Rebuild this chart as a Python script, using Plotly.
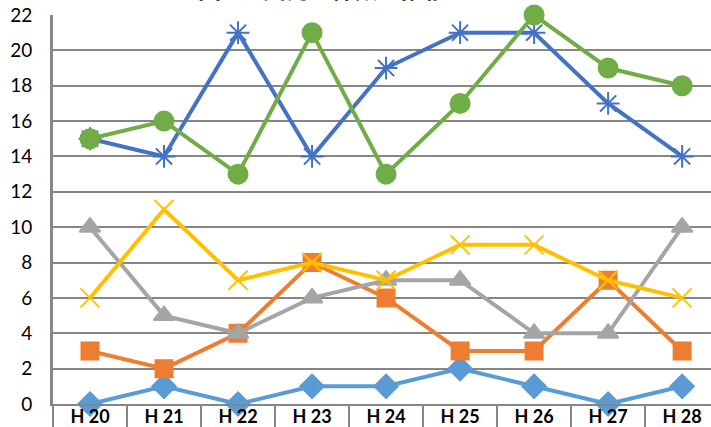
import plotly.graph_objects as go

categories = ["H 20", "H 21", "H 22", "H 23", "H 24", "H 25", "H 26", "H 27", "H 28"]
s_diamond = [0, 1, 0, 1, 1, 2, 1, 0, 1]
s_square = [3, 2, 4, 8, 6, 3, 3, 7, 3]
s_triangle = [10, 5, 4, 6, 7, 7, 4, 4, 10]
s_x = [6, 11, 7, 8, 7, 9, 9, 7, 6]
s_star = [15, 14, 21, 14, 19, 21, 21, 17, 14]
s_circle = [15, 16, 13, 21, 13, 17, 22, 19, 18]
y_ticks = list(range(0, 23, 2))
title_text = "図1 火災発生件数の推移"

series = [
    (s_diamond, "#5B9BD5", "diamond", 18),
    (s_square, "#ED7D31", "square", 17),
    (s_triangle, "#A5A5A5", "triangle-up", 18),
    (s_x, "#FFC000", "x-thin-open", 19),
    (s_star, "#4472C4", "asterisk-open", 19),
    (s_circle, "#70AD47", "circle", 19),
]

fig = go.Figure()
for vals, col, sym, sz in series:
    fig.add_trace(go.Scatter(
        x=categories, y=vals, mode="lines+markers",
        line=dict(color=col, width=4),
        marker=dict(symbol=sym, size=sz, color=col, line=dict(color=col, width=2)),
        cliponaxis=False, showlegend=False,
    ))

fig.add_annotation(text=title_text, xref="paper", yref="paper", x=0.41, y=1,
                   xanchor="center", yanchor="bottom", yshift=8, showarrow=False,
                   font=dict(size=23, color="black", family="Noto Sans CJK JP", weight="bold"))

fig.update_layout(
    width=711, height=427,
    margin=dict(l=53, r=0, t=15, b=23),
    paper_bgcolor="white", plot_bgcolor="white",
    font=dict(family="Lato, Open Sans, sans-serif", color="black"),
)
fig.update_xaxes(
    range=[-0.5, 8.39], tickson="boundaries", ticks="outside", ticklen=25,
    tickwidth=2, tickcolor="#868686", showline=True, linecolor="#868686", linewidth=2,
    showgrid=False, tickfont=dict(size=18, family="Lato", color="black", weight="bold"),
    ticklabelstandoff=-5, automargin=False,
)
fig.update_yaxes(
    range=[0, 22], tickvals=y_ticks, showgrid=True, gridcolor="#868686", gridwidth=2,
    showline=True, linecolor="#868686", linewidth=3, zeroline=False,
    tickfont=dict(size=19, family="Lato", color="black"), ticks="", ticklabelstandoff=14,
    automargin=False,
)

fig.write_html("out.html")
